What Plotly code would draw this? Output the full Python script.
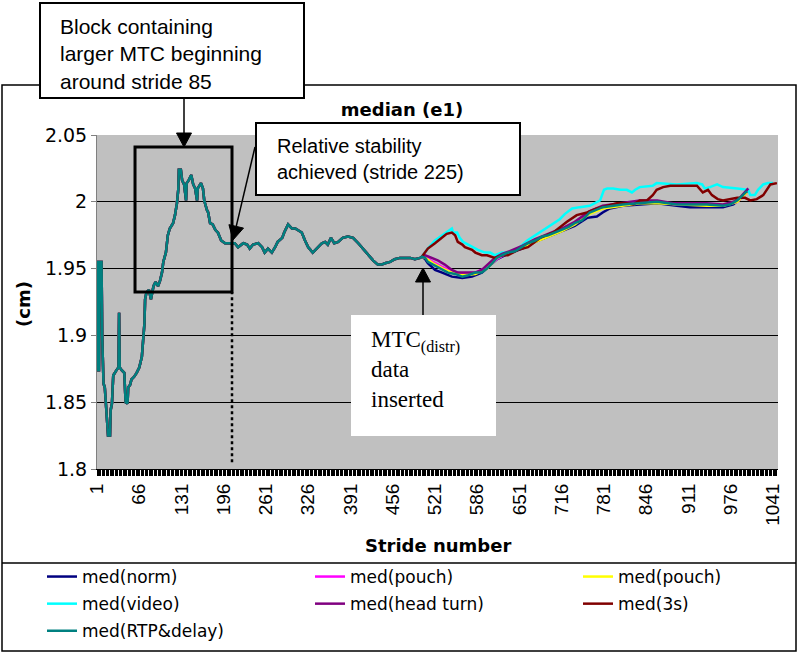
import plotly.graph_objects as go

# median (e1) of MTC, shared part before the MTC(distr) data are inserted (strides 1..501)
base_stride = [1, 2, 3, 4, 5, 8, 9, 11, 13, 15, 17, 18, 21, 22, 24, 25, 26, 31, 34, 35,
               36, 39, 43, 45, 48, 49, 52, 54, 58, 62, 66, 70, 72, 74, 75, 77, 81, 84, 88, 91,
               95, 98, 101, 103, 107, 110, 113, 118, 121, 124, 126, 127, 130, 132, 135, 138, 139, 142, 146, 149,
               152, 155, 156, 161, 164, 166, 170, 172, 175, 179, 183, 187, 192, 198, 206, 213, 218, 226, 232, 236,
               241, 249, 255, 259, 264, 270, 275, 279, 286, 289, 295, 301, 306, 310, 316, 321, 326, 333, 339, 347,
               352, 356, 361, 366, 372, 379, 387, 395, 403, 410, 418, 426, 433, 439, 444, 452, 459, 467, 475, 483,
               490, 498, 501]
base_med = [1.955, 1.955, 1.874, 1.874, 1.955, 1.955, 1.900, 1.864, 1.861, 1.849, 1.837, 1.825, 1.825, 1.844, 1.849, 1.869, 1.870, 1.874, 1.876, 1.917,
            1.876, 1.874, 1.872, 1.850, 1.849, 1.861, 1.863, 1.867, 1.869, 1.872, 1.876, 1.884, 1.895, 1.909, 1.927, 1.932, 1.934, 1.927, 1.937, 1.940,
            1.937, 1.941, 1.947, 1.955, 1.962, 1.975, 1.980, 1.984, 1.990, 1.999, 2.009, 2.024, 2.024, 2.016, 2.013, 2.001, 2.014, 2.016, 2.020, 2.013,
            2.010, 2.001, 2.010, 2.014, 2.010, 2.001, 1.994, 1.992, 1.984, 1.983, 1.979, 1.977, 1.971, 1.969, 1.969, 1.969, 1.966, 1.969, 1.968, 1.965,
            1.968, 1.969, 1.966, 1.962, 1.965, 1.962, 1.966, 1.970, 1.973, 1.977, 1.983, 1.980, 1.980, 1.979, 1.977, 1.971, 1.966, 1.962, 1.965, 1.969,
            1.970, 1.968, 1.973, 1.969, 1.970, 1.973, 1.974, 1.973, 1.969, 1.965, 1.960, 1.956, 1.953, 1.953, 1.954, 1.955, 1.957, 1.958, 1.958, 1.958,
            1.957, 1.958, 1.959]

# after insertion, one tail per condition
norm_stride = [506, 510, 521, 532, 547, 563, 578, 593, 602, 616, 633, 655, 675, 695, 716,
               736, 755, 770, 779, 790, 810, 836, 863, 893, 913, 939, 964, 980, 990, 1001]
norm_med = [1.957, 1.954, 1.949, 1.947, 1.944, 1.943, 1.944, 1.947, 1.951, 1.957, 1.961, 1.965, 1.970, 1.974, 1.978,
            1.982, 1.988, 1.989, 1.992, 1.995, 1.997, 1.998, 1.999, 1.997, 1.996, 1.996, 1.996, 1.998, 2.002, 2.008]

pouch_stride = [506, 518, 533, 547, 563, 583, 601, 616, 633, 655, 675, 695,
                716, 736, 759, 779, 810, 836, 863, 893, 939, 964, 986, 1001]
pouch_med = [1.959, 1.955, 1.951, 1.948, 1.946, 1.947, 1.951, 1.957, 1.962, 1.966, 1.971, 1.975,
             1.979, 1.984, 1.992, 1.996, 1.998, 2.000, 2.000, 1.998, 1.998, 1.997, 2.000, 2.007]

pouch2_stride = [506, 518, 533, 547, 563, 583, 601, 616, 633, 655, 675, 695,
                 716, 736, 759, 779, 810, 836, 863, 893, 939, 964, 986, 1001]
pouch2_med = [1.958, 1.954, 1.950, 1.947, 1.945, 1.946, 1.950, 1.958, 1.962, 1.966, 1.970, 1.974,
              1.978, 1.983, 1.991, 1.995, 1.997, 1.999, 1.999, 1.998, 1.997, 1.997, 2.000, 2.007]

video_stride = [510, 521, 532, 539, 547, 549, 555, 559, 564, 572, 579, 587, 598, 606, 613, 624, 639, 649,
                663, 672, 683, 693, 703, 713, 721, 732, 744, 759, 775, 781, 786, 795, 806, 816, 824, 829,
                836, 856, 862, 893, 924, 932, 936, 944, 955, 964, 986, 1003, 1006, 1013, 1018, 1026, 1033, 1041]
video_med = [1.965, 1.971, 1.975, 1.977, 1.980, 1.977, 1.977, 1.973, 1.970, 1.968, 1.966, 1.964, 1.962, 1.962, 1.960, 1.962, 1.962, 1.965,
             1.971, 1.974, 1.977, 1.981, 1.984, 1.987, 1.991, 1.995, 1.996, 1.997, 2.001, 2.009, 2.010, 2.010, 2.009, 2.009, 2.007, 2.009,
             2.011, 2.012, 2.014, 2.013, 2.014, 2.013, 2.010, 2.011, 2.013, 2.011, 2.010, 2.009, 2.005, 2.005, 2.009, 2.013, 2.014, 2.014]

headturn_stride = [506, 516, 526, 536, 547, 556, 567, 583, 593, 602, 613, 624, 636, 655, 675,
                   695, 716, 736, 759, 779, 810, 836, 863, 887, 913, 939, 964, 980, 990, 1003]
headturn_med = [1.960, 1.958, 1.956, 1.953, 1.949, 1.947, 1.947, 1.947, 1.949, 1.953, 1.958, 1.961, 1.963, 1.967, 1.972,
                1.976, 1.980, 1.985, 1.993, 1.997, 1.999, 2.001, 2.001, 1.999, 1.999, 1.999, 1.998, 2.000, 2.003, 2.010]

s3_stride = [510, 521, 532, 539, 547, 552, 556, 563, 567, 572, 578, 583, 593, 601, 609, 613, 618, 626,
             633, 641, 649, 656, 664, 672, 683, 703, 724, 739, 755, 770, 786, 801, 816, 826, 836, 847,
             856, 862, 872, 883, 903, 924, 933, 941, 947, 956, 964, 986, 998, 1006, 1016, 1026, 1037, 1047]
s3_med = [1.965, 1.969, 1.973, 1.976, 1.977, 1.975, 1.970, 1.968, 1.966, 1.965, 1.964, 1.962, 1.960, 1.960, 1.959, 1.958, 1.959, 1.960,
          1.960, 1.962, 1.964, 1.965, 1.966, 1.969, 1.973, 1.977, 1.985, 1.990, 1.992, 1.995, 1.997, 1.999, 1.999, 1.998, 2.001, 2.001,
          2.005, 2.009, 2.011, 2.012, 2.012, 2.012, 2.007, 2.009, 2.005, 2.002, 2.001, 2.003, 2.003, 2.001, 2.002, 2.005, 2.013, 2.014]

rtp_stride = [506, 510, 518, 526, 533, 541, 552, 563, 572, 583, 593, 601, 609, 616, 624, 633, 644, 655, 664, 675,
              686, 695, 706, 716, 726, 736, 747, 759, 779, 810, 836, 863, 893, 913, 939, 964, 975, 986, 995, 1001]
rtp_med = [1.958, 1.955, 1.953, 1.951, 1.949, 1.947, 1.946, 1.944, 1.945, 1.947, 1.947, 1.950, 1.954, 1.958, 1.960, 1.962, 1.963, 1.966, 1.969, 1.971,
           1.974, 1.975, 1.977, 1.979, 1.981, 1.984, 1.986, 1.992, 1.996, 1.998, 1.999, 2.000, 1.998, 1.998, 1.998, 1.997, 1.998, 2.001, 2.005, 2.008]

y_tickvals = [1.8, 1.85, 1.9, 1.95, 2.0, 2.05]
y_ticktext = ["1.8", "1.85", "1.9", "1.95", "2", "2.05"]

W, H = 801, 653
# plot area in pixels, used to place the boxes around the chart
L, R, T, B = 97, 778, 135, 469


def px(x):
    return (x - L) / (R - L)


def py(y):
    return (B - y) / (B - T)


def arrow_shapes(x0, y0, x1, y1, head=14, half=7.5):
    """Shaft + filled head from (x0, y0) to the tip (x1, y1), pixels."""
    dx, dy = x1 - x0, y1 - y0
    n = (dx * dx + dy * dy) ** 0.5
    ux, uy = dx / n, dy / n
    bx, by = x1 - head * ux, y1 - head * uy
    p1 = (bx + half * uy, by - half * ux)
    p2 = (bx - half * uy, by + half * ux)
    path = "M %f,%f L %f,%f L %f,%f Z" % (px(x1), py(y1), px(p1[0]), py(p1[1]), px(p2[0]), py(p2[1]))
    return [
        dict(type="line", xref="paper", yref="paper", x0=px(x0), y0=py(y0), x1=px(bx), y1=py(by),
             line=dict(color="black", width=1.5), layer="above"),
        dict(type="path", xref="paper", yref="paper", path=path, fillcolor="black",
             line=dict(color="black", width=1), layer="above"),
    ]


series = [
    ("med(norm)", "#000080", norm_stride, norm_med, "legend"),
    ("med(pouch)", "#FF00FF", pouch_stride, pouch_med, "legend2"),
    ("med(pouch)", "#FFFF00", pouch2_stride, pouch2_med, "legend3"),
    ("med(video)", "#00FFFF", video_stride, video_med, "legend"),
    ("med(head turn)", "#800080", headturn_stride, headturn_med, "legend2"),
    ("med(3s)", "#800000", s3_stride, s3_med, "legend3"),
    ("med(RTP&delay)", "#008080", rtp_stride, rtp_med, "legend"),
]

fig = go.Figure()
for i, (name, color, xs, ys, leg) in enumerate(series):
    fig.add_trace(go.Scatter(
        x=base_stride + xs, y=base_med + ys,
        mode="lines",
        line=dict(color=color, width=2.5),
        name=name,
        legend=leg,
        legendgroup="g%d" % i,
    ))

legend_style = dict(
    orientation="v", xanchor="left", yanchor="top", xref="container", yref="container",
    bgcolor="rgba(0,0,0,0)", borderwidth=0,
    font=dict(family="DejaVu Sans", size=17, color="black"),
    tracegroupgap=2,
)

shapes = [
    # frame of chart + legend
    dict(type="rect", xref="paper", yref="paper", x0=px(2), x1=px(796), y0=py(651), y1=py(85),
         line=dict(color="black", width=1.5), layer="below"),
    dict(type="line", xref="paper", yref="paper", x0=px(2), x1=px(796), y0=py(563), y1=py(563),
         line=dict(color="black", width=1.5)),
    # text boxes
    dict(type="rect", xref="paper", yref="paper", x0=px(40), x1=px(304), y0=py(98), y1=py(3),
         fillcolor="white", line=dict(color="black", width=2), layer="above"),
    dict(type="rect", xref="paper", yref="paper", x0=px(256), x1=px(520), y0=py(195), y1=py(123),
         fillcolor="white", line=dict(color="black", width=2), layer="above"),
    dict(type="rect", xref="paper", yref="paper", x0=px(351), x1=px(496), y0=py(436), y1=py(315),
         fillcolor="white", line=dict(width=0), layer="above"),
    # block of larger MTC
    dict(type="rect", xref="x", yref="y", x0=59.5, x1=208.7, y0=1.9325, y1=2.041,
         line=dict(color="black", width=3), layer="above"),
    dict(type="line", xref="x", yref="y", x0=208.7, x1=208.7, y0=1.805, y1=1.9325,
         line=dict(color="black", width=2.5, dash="dot"), layer="above"),
]
shapes += arrow_shapes(184, 98, 184, 147)
shapes += arrow_shapes(255, 147, 233, 240)
shapes += arrow_shapes(423, 315, 423, 268)

title_font = dict(family="DejaVu Sans", size=18, color="black")
annotations = [
    # axis titles
    dict(text="<b>Stride number</b>", showarrow=False, xref="paper", yref="paper",
         x=0.5, y=py(545), xanchor="center", yanchor="middle", font=title_font),
    dict(text="<b>(cm)</b>", showarrow=False, xref="paper", yref="paper", textangle=-90,
         x=px(23), y=py(304), xanchor="center", yanchor="middle", font=title_font),
    # callouts
    dict(text="Block containing<br>larger MTC beginning<br>around stride 85", showarrow=False,
         xref="paper", yref="paper", x=px(58), y=py(13), xanchor="left", yanchor="top",
         align="left", font=dict(family="Liberation Sans", size=21, color="black")),
    dict(text="Relative stability<br>achieved (stride 225)", showarrow=False,
         xref="paper", yref="paper", x=px(275), y=py(133), xanchor="left", yanchor="top",
         align="left", font=dict(family="Liberation Sans", size=20, color="black")),
    dict(text="MTC<sub>(distr)</sub><br>data<br>inserted", showarrow=False,
         xref="paper", yref="paper", x=px(369), y=py(325), xanchor="left", yanchor="top",
         align="left", font=dict(family="Liberation Serif", size=23, color="black")),
]

fig.update_layout(
    width=W, height=H, autosize=False,
    margin=dict(l=L, r=W - R, t=T, b=H - B, autoexpand=False),
    paper_bgcolor="white", plot_bgcolor="#C0C0C0",
    title=dict(text="<b>median (e1)</b>", x=402 / W, xanchor="center",
               y=1 - 110 / H, yanchor="middle",
               font=dict(family="DejaVu Sans", size=18, color="black")),
    xaxis=dict(
        range=[1, 1048.7], tickmode="linear", tick0=1, dtick=65, tickangle=-90,
        ticks="outside", ticklen=6, tickcolor="black", showline=True, linecolor="black",
        showgrid=False, zeroline=False,
        minor=dict(tickmode="linear", tick0=1, dtick=2, ticks="outside", ticklen=6,
                   tickcolor="black", tickwidth=1.3, showgrid=False),
        tickfont=dict(family="Liberation Sans", size=19, color="black"),
    ),
    yaxis=dict(
        range=[1.8, 2.05], tickmode="array", tickvals=y_tickvals, ticktext=y_ticktext,
        ticks="outside", ticklen=5, tickcolor="#808080", showline=True, linecolor="#808080",
        showgrid=True, gridcolor="black", gridwidth=1, zeroline=False,
        tickfont=dict(family="DejaVu Sans", size=19, color="black"),
    ),
    legend=dict(legend_style, x=42 / W, y=1 - 559 / H),
    legend2=dict(legend_style, x=310 / W, y=1 - 559 / H),
    legend3=dict(legend_style, x=578 / W, y=1 - 559 / H),
    shapes=shapes,
    annotations=annotations,
    hovermode="closest",
)

# the page's default body margin would shift the whole figure by 8 px
fig.write_html("out.html", config={"displayModeBar": False},
               post_script="document.body.style.margin = '0px';")
